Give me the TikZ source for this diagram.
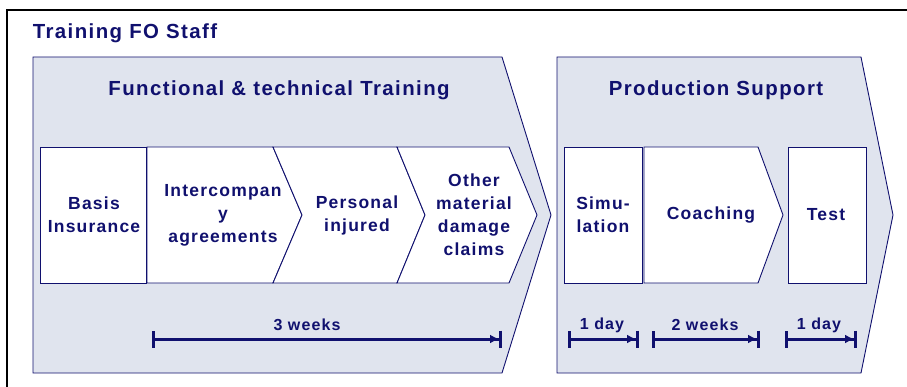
\documentclass[tikz,border=0pt]{standalone}
\usepackage{fontspec}
\setmainfont{Liberation Sans}[LetterSpace=7]
\usetikzlibrary{arrows.meta}
\definecolor{navy}{HTML}{10106E}
\definecolor{phasefill}{HTML}{E0E4EE}

\begin{document}
\begin{tikzpicture}[x=1pt, y=-1pt,
    phase/.style={draw=navy, fill=phasefill, line width=0.9pt},
    task/.style={draw=navy, fill=white, line width=0.9pt},
    heading/.style={text=navy, font=\bfseries\fontsize{20.4}{24}\selectfont, inner sep=0pt},
    tasklabel/.style={text=navy, font=\bfseries\fontsize{17.5}{23}\selectfont, align=center, inner sep=0pt},
    spanlabel/.style={text=navy, font=\bfseries\fontsize{16}{19}\selectfont, inner sep=0pt},
    span/.style={navy, line width=3pt, {Bar[width=17pt]}-{Latex[length=9pt,width=9pt]Bar[width=17pt]}}]
    \useasboundingbox (0,0) rectangle (907,387);

    % frame
    \draw[line width=1.4pt] (7,400) -- (7,10) -- (920,10);
    \node[heading] (staff) at (125,33) {Training FO Staff};

    % phases
    \draw[phase] (33,57) -- (502,57) -- (551,215) -- (502,373) -- (33,373) -- cycle;
    \draw[phase] (557,57) -- (861,57) -- (893,215) -- (861,373) -- (557,373) -- cycle;
    \node[heading] (functional) at (279,90) {Functional \& technical Training};
    \node[heading] (production) at (716,90) {Production Support};

    % training steps
    \draw[task] (40,147) rectangle (146,283);
    \draw[task] (147,147) -- (273,147) -- (302,215) -- (273,283) -- (147,283) -- cycle;
    \draw[task] (273,147) -- (397,147) -- (425,215) -- (397,283) -- (273,283) -- (302,215) -- cycle;
    \draw[task] (397,147) -- (509,147) -- (537,215) -- (509,283) -- (397,283) -- (425,215) -- cycle;
    \node[tasklabel] (basis) at (94,215) {Basis\\Insurance};
    \node[tasklabel] (interco) at (223,215) {Intercompan\\y\\agreements};
    \node[tasklabel] (personal) at (357,215) {Personal\\injured};
    \node[tasklabel] (damage) at (474,215) {Other\\material\\damage\\claims};

    % support steps
    \draw[task] (564,147) rectangle (642,283);
    \draw[task] (644,147) -- (758,147) -- (783,215) -- (758,283) -- (644,283) -- cycle;
    \draw[task] (788,147) rectangle (866,283);
    \node[tasklabel] (simulation) at (603,215) {Simu-\\lation};
    \node[tasklabel] (coaching) at (711,215) {Coaching};
    \node[tasklabel] (test) at (826,215) {Test};

    % durations
    \coordinate (w3a) at (152,339);
    \coordinate (w3b) at (502,339);
    \coordinate (d1a) at (568,339);
    \coordinate (d1b) at (639,339);
    \coordinate (w2a) at (652,339);
    \coordinate (w2b) at (760,339);
    \coordinate (d2a) at (785,339);
    \coordinate (d2b) at (857,339);
    \draw[span] (w3a) -- (w3b);
    \draw[span] (d1a) -- (d1b);
    \draw[span] (w2a) -- (w2b);
    \draw[span] (d2a) -- (d2b);
    \node[spanlabel] (threeweeks) at (307,325) {3 weeks};
    \node[spanlabel] (oneday) at (602,325) {1 day};
    \node[spanlabel] (twoweeks) at (705,325) {2 weeks};
    \node[spanlabel] (lastday) at (819,325) {1 day};
\end{tikzpicture}
\end{document}
